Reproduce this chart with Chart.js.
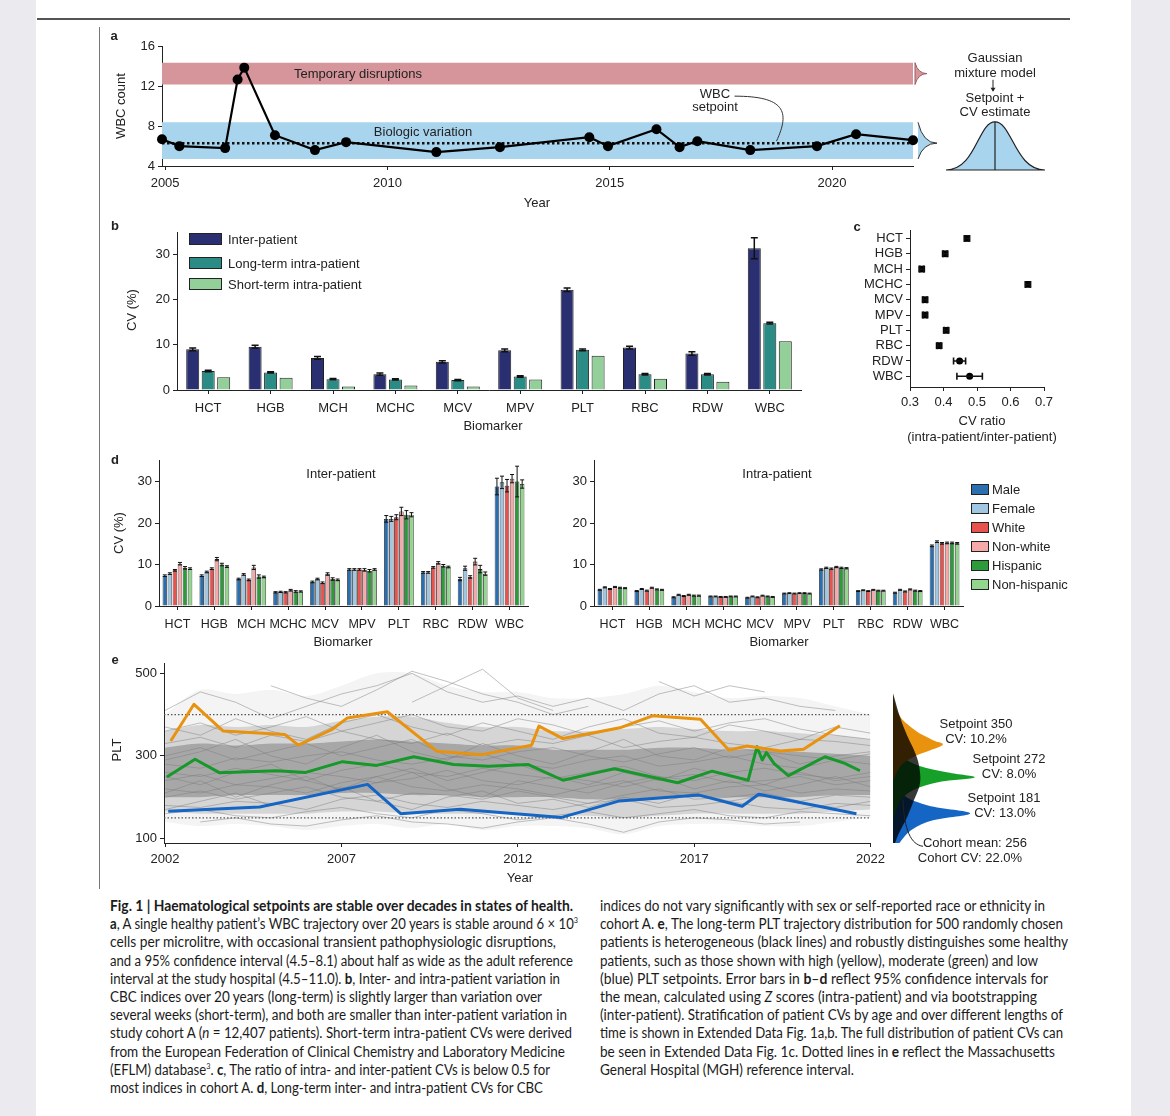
<!DOCTYPE html>
<html>
<head>
<meta charset="utf-8">
<script src="https://cdn.jsdelivr.net/npm/chart.js@4.4.1/dist/chart.umd.min.js"></script>
<style>
body{margin:0;width:1170px;height:1116px;background:#ebebef;position:relative;overflow:hidden;font-family:'Liberation Sans',Arial,sans-serif;color:#222}
#page{position:absolute;left:36px;top:0;width:1095px;height:1116px;background:#fff}
canvas{position:absolute}
.t{position:absolute;font-size:13px;white-space:nowrap;transform:translate(-50%,-50%);line-height:1}
.rot{transform:translate(-50%,-50%) rotate(-90deg)}
.pl{position:absolute;font-weight:bold;font-size:13px;transform:translate(-50%,-50%);line-height:1}
.lt{position:absolute;font-size:13px;white-space:nowrap;transform:translateY(-50%);line-height:1}
.box{position:absolute;border:1px solid #222;box-sizing:border-box}
.cap{position:absolute;font-family:Lato,'Open Sans',sans-serif;font-size:14.5px;line-height:18.2px;color:#1b1b1b}
.cap div{white-space:nowrap;transform-origin:0 50%;width:max-content;height:18.2px}
.cap sup{font-size:8px;line-height:0;vertical-align:baseline;position:relative;top:-6px}
</style>
</head>
<body>
<div id="page"></div>
<div style="position:absolute;left:37px;top:18px;width:1033px;height:1.5px;background:#555"></div>
<div style="position:absolute;left:99px;top:27px;width:1px;height:862px;background:#777"></div>

<canvas id="cA" width="960" height="180" style="left:100px;top:36px"></canvas>
<canvas id="cB" width="720" height="220" style="left:100px;top:215px"></canvas>
<canvas id="cC" width="200" height="200" style="left:860px;top:220px"></canvas>
<canvas id="cDL" width="440" height="200" style="left:100px;top:450px"></canvas>
<canvas id="cDR" width="440" height="200" style="left:540px;top:450px"></canvas>
<canvas id="cE" width="790" height="240" style="left:100px;top:650px"></canvas>
<canvas id="cED" width="120" height="240" style="left:880px;top:650px"></canvas>

<!-- panel labels -->
<div class="pl" style="left:114px;top:35px">a</div>
<div class="pl" style="left:115px;top:225px">b</div>
<div class="pl" style="left:857px;top:226px">c</div>
<div class="pl" style="left:115px;top:459px">d</div>
<div class="pl" style="left:115px;top:659px">e</div>

<!-- panel a text -->
<div class="t rot" style="left:120px;top:106px">WBC count</div>
<div class="t" style="left:537px;top:202px">Year</div>
<div class="t" style="left:358px;top:73px">Temporary disruptions</div>
<div class="t" style="left:423px;top:131px">Biologic variation</div>
<div class="t" style="left:715px;top:93px">WBC</div>
<div class="t" style="left:715px;top:106px">setpoint</div>
<div class="t" style="left:995px;top:57px">Gaussian</div>
<div class="t" style="left:995px;top:72px">mixture model</div>
<div class="t" style="left:995px;top:97px">Setpoint +</div>
<div class="t" style="left:995px;top:111px">CV estimate</div>

<!-- panel b text -->
<div class="t rot" style="left:131px;top:310px">CV (%)</div>
<div class="t" style="left:493px;top:425px">Biomarker</div>
<div class="box" style="left:189px;top:233px;width:33px;height:12px;background:#2a2f72"></div>
<div class="lt" style="left:228px;top:239px">Inter-patient</div>
<div class="box" style="left:189px;top:257px;width:33px;height:12px;background:#2b8c86"></div>
<div class="lt" style="left:228px;top:263px">Long-term intra-patient</div>
<div class="box" style="left:189px;top:278px;width:33px;height:12px;background:#93cf98"></div>
<div class="lt" style="left:228px;top:284px">Short-term intra-patient</div>

<!-- panel c text -->
<div class="t" style="left:982px;top:420px">CV ratio</div>
<div class="t" style="left:982px;top:436px">(intra-patient/inter-patient)</div>

<!-- panel d text -->
<div class="t rot" style="left:118px;top:533px">CV (%)</div>
<div class="t" style="left:343px;top:641px">Biomarker</div>
<div class="t" style="left:779px;top:641px">Biomarker</div>
<div class="t" style="left:341px;top:473px">Inter-patient</div>
<div class="t" style="left:777px;top:473px">Intra-patient</div>
<div id="legD"></div>

<!-- panel e text -->
<div class="t rot" style="left:116px;top:750px">PLT</div>
<div class="t" style="left:520px;top:877px">Year</div>
<div class="t" style="left:976px;top:723px">Setpoint 350</div>
<div class="t" style="left:976px;top:738px">CV: 10.2%</div>
<div class="t" style="left:1009px;top:758px">Setpoint 272</div>
<div class="t" style="left:1009px;top:773px">CV: 8.0%</div>
<div class="t" style="left:1004px;top:797px">Setpoint 181</div>
<div class="t" style="left:1005px;top:812px">CV: 13.0%</div>
<div class="t" style="left:975px;top:842px">Cohort mean: 256</div>
<div class="t" style="left:970px;top:857px">Cohort CV: 22.0%</div>

<!-- caption -->
<div class="cap" style="left:110px;top:897px">
<div data-w="463"><b>Fig. 1 | Haematological setpoints are stable over decades in states of health.</b></div>
<div data-w="468"><b>a</b>, A single healthy patient’s WBC trajectory over 20 years is stable around 6 × 10<sup>3</sup></div>
<div data-w="446">cells per microlitre, with occasional transient pathophysiologic disruptions,</div>
<div data-w="463">and a 95% confidence interval (4.5–8.1) about half as wide as the adult reference</div>
<div data-w="450">interval at the study hospital (4.5–11.0). <b>b</b>, Inter- and intra-patient variation in</div>
<div data-w="432">CBC indices over 20 years (long-term) is slightly larger than variation over</div>
<div data-w="457">several weeks (short-term), and both are smaller than inter-patient variation in</div>
<div data-w="462">study cohort A (<i>n</i> = 12,407 patients). Short-term intra-patient CVs were derived</div>
<div data-w="455">from the European Federation of Clinical Chemistry and Laboratory Medicine</div>
<div data-w="440">(EFLM) database<sup>3</sup>. <b>c</b>, The ratio of intra- and inter-patient CVs is below 0.5 for</div>
<div data-w="433">most indices in cohort A. <b>d</b>, Long-term inter- and intra-patient CVs for CBC</div>
</div>
<div class="cap" style="left:600px;top:897px">
<div data-w="445">indices do not vary significantly with sex or self-reported race or ethnicity in</div>
<div data-w="463">cohort A. <b>e</b>, The long-term PLT trajectory distribution for 500 randomly chosen</div>
<div data-w="468">patients is heterogeneous (black lines) and robustly distinguishes some healthy</div>
<div data-w="438">patients, such as those shown with high (yellow), moderate (green) and low</div>
<div data-w="448">(blue) PLT setpoints. Error bars in <b>b</b>–<b>d</b> reflect 95% confidence intervals for</div>
<div data-w="437">the mean, calculated using <i>Z</i> scores (intra-patient) and via bootstrapping</div>
<div data-w="463">(inter-patient). Stratification of patient CVs by age and over different lengths of</div>
<div data-w="463">time is shown in Extended Data Fig. 1a,b. The full distribution of patient CVs can</div>
<div data-w="455">be seen in Extended Data Fig. 1c. Dotted lines in <b>e</b> reflect the Massachusetts</div>
<div data-w="254">General Hospital (MGH) reference interval.</div>
</div>

<script>
// ---------- data ----------
// a: single patient WBC trajectory
const wbcYears = [2004.93, 2005.32, 2006.35, 2006.63, 2006.78, 2007.47, 2008.37, 2009.07, 2011.1, 2012.53, 2014.54, 2014.96, 2016.05, 2016.57, 2016.97, 2018.16, 2019.66, 2020.54, 2021.82];
const wbcCounts = [6.7, 6.0, 5.8, 12.7, 13.9, 7.1, 5.6, 6.4, 5.4, 5.9, 6.9, 6.0, 7.7, 5.9, 6.5, 5.6, 6.0, 7.2, 6.6];
const wbcSetpoint = 6.3;
const disruptionBand = [12.2, 14.4];
const biologicBand = [4.7, 8.4];
const aYearTicks = [2005, 2010, 2015, 2020];

// b: CVs per biomarker
const biomarkers = ['HCT', 'HGB', 'MCH', 'MCHC', 'MCV', 'MPV', 'PLT', 'RBC', 'RDW', 'WBC'];
const interCV = [9.0, 9.6, 7.1, 3.5, 6.25, 8.8, 22.2, 9.4, 8.1, 31.4];
const interErr = [0.3, 0.3, 0.3, 0.25, 0.25, 0.3, 0.4, 0.3, 0.4, 2.35];
const longCV = [4.2, 3.9, 2.4, 2.35, 2.2, 3.0, 8.9, 3.5, 3.5, 14.8];
const longErr = [0.15, 0.15, 0.15, 0.15, 0.15, 0.15, 0.2, 0.15, 0.15, 0.2];
const shortCV = [2.8, 2.7, 0.8, 1.0, 0.8, 2.35, 7.6, 2.5, 1.8, 10.8];

// c: CV ratio intra/inter
const cvRatio = [0.470, 0.405, 0.335, 0.652, 0.345, 0.345, 0.408, 0.387, 0.448, 0.478];
const cvRatioErr = [0.007, 0.006, 0.006, 0.007, 0.006, 0.006, 0.006, 0.005, 0.018, 0.038];

// d: stratified CVs
const groups = ['Male', 'Female', 'White', 'Non-white', 'Hispanic', 'Non-hispanic'];
const interMale = [7.3, 7.3, 6.5, 3.3, 5.8, 8.8, 21.0, 8.1, 6.5, 28.8];
const interFemale = [7.8, 8.2, 7.6, 3.4, 6.5, 8.8, 21.0, 8.1, 9.1, 29.8];
const interWhite = [8.6, 9.0, 6.3, 3.3, 5.6, 8.8, 21.4, 9.3, 7.0, 29.0];
const interNonWhite = [10.2, 11.3, 9.3, 3.8, 7.7, 8.7, 22.8, 10.4, 10.7, 30.7];
const interHispanic = [9.2, 10.0, 7.1, 3.5, 6.5, 8.5, 22.0, 9.7, 8.9, 30.0];
const interNonHispanic = [9.0, 9.5, 7.0, 3.5, 6.3, 8.8, 22.0, 9.4, 7.8, 29.4];
const interErrMale = [0.2, 0.2, 0.2, 0.15, 0.2, 0.2, 0.8, 0.2, 0.4, 2.0];
const interErrFemale = [0.2, 0.2, 0.2, 0.15, 0.2, 0.2, 0.6, 0.2, 0.5, 1.5];
const interErrWhite = [0.2, 0.2, 0.2, 0.15, 0.2, 0.2, 0.6, 0.2, 0.3, 1.5];
const interErrNonWhite = [0.3, 0.4, 0.5, 0.2, 0.3, 0.3, 1.0, 0.3, 0.8, 1.0];
const interErrHispanic = [0.3, 0.3, 0.4, 0.2, 0.3, 0.3, 1.0, 0.3, 0.9, 3.7];
const interErrNonHispanic = [0.2, 0.2, 0.2, 0.15, 0.2, 0.2, 0.5, 0.2, 0.4, 1.0];
const intraMale = [3.9, 3.6, 2.1, 2.3, 2.0, 3.0, 8.8, 3.6, 3.2, 14.5];
const intraFemale = [4.5, 4.1, 2.7, 2.3, 2.3, 3.1, 9.2, 3.8, 3.9, 15.5];
const intraWhite = [4.1, 3.7, 2.4, 2.2, 2.1, 3.0, 9.0, 3.6, 3.5, 15.1];
const intraNonWhite = [4.6, 4.4, 2.7, 2.2, 2.5, 3.1, 9.4, 3.9, 4.0, 15.2];
const intraHispanic = [4.4, 4.0, 2.5, 2.3, 2.3, 3.1, 9.2, 3.7, 3.7, 15.2];
const intraNonHispanic = [4.3, 3.9, 2.5, 2.3, 2.2, 3.0, 9.1, 3.7, 3.6, 15.1];
const intraErr = [0.12, 0.12, 0.12, 0.1, 0.1, 0.1, 0.15, 0.1, 0.12, 0.2];

// e: PLT trajectories
const orangeYears = [2002.16, 2002.82, 2003.65, 2005.39, 2005.78, 2006.75, 2007.17, 2008.3, 2009.71, 2010.98, 2012.39, 2012.6, 2013.28, 2014.27, 2014.93, 2015.82, 2017.18, 2017.98, 2018.5, 2019.44, 2020.1, 2021.13];
const orangePLT = [336, 425, 360, 352, 326, 365, 392, 407, 311, 303, 326, 372, 342, 358, 369, 397, 389, 314, 324, 312, 316, 373];
const greenYears = [2002.05, 2002.85, 2003.55, 2005.15, 2005.99, 2007.03, 2008.0, 2009.05, 2010.18, 2011.17, 2012.3, 2013.28, 2014.27, 2014.74, 2016.53, 2017.51, 2018.53, 2018.78, 2018.93, 2019.05, 2019.26, 2019.67, 2020.71, 2021.27, 2021.7];
const greenPLT = [249, 292, 259, 264, 260, 286, 277, 298, 279, 275, 279, 241, 260, 269, 235, 263, 241, 322, 290, 308, 282, 252, 298, 282, 264];
const blueYears = [2002.09, 2004.68, 2007.74, 2008.68, 2010.37, 2013.24, 2014.27, 2014.88, 2017.14, 2018.36, 2018.83, 2021.6];
const bluePLT = [166, 176, 231, 160, 171, 151, 176, 191, 205, 178, 207, 160];
const referenceInterval = [150, 400];
const eYears = [2002, 2003, 2004, 2005, 2006, 2007, 2008, 2009, 2010, 2011, 2012, 2013, 2014, 2015, 2016, 2017, 2018, 2019, 2020, 2021, 2022];
const eYearTicks = [2002, 2007, 2012, 2017, 2022];
// density of the 500-patient cloud (outer, middle and core envelopes)
const outerHi = [400, 460, 450, 460, 445, 470, 500, 500, 470, 455, 455, 440, 440, 450, 470, 455, 440, 445, 440, 420, 400];
const outerLo = [140, 130, 135, 130, 120, 130, 135, 125, 135, 120, 130, 130, 125, 110, 130, 135, 135, 130, 130, 140, 150];
const midHi = [360, 375, 370, 375, 370, 385, 395, 395, 380, 370, 370, 360, 360, 365, 370, 365, 360, 360, 355, 350, 340];
const midLo = [165, 160, 160, 160, 160, 165, 165, 160, 160, 160, 160, 155, 155, 150, 155, 160, 160, 160, 160, 165, 170];
const coreHi = [320, 330, 325, 330, 330, 335, 340, 335, 330, 325, 325, 315, 315, 315, 320, 320, 315, 315, 310, 305, 300];
const coreLo = [200, 200, 205, 205, 205, 210, 210, 205, 205, 200, 200, 200, 195, 195, 200, 200, 200, 200, 200, 205, 205];
// a sample of individual grey trajectories
const greyTrajectories = [
  [410, 455, 430, 390, 420, 450, 470, 500, 455, 430, 445, 420, 440, 410, 450, 470, 430, 440, 420, 410, null],
  [null, null, null, 470, 440, 420, 460, 505, 480, 450, 430, 400, 420, null, null, null, null, null, null, null, null],
  [360, 380, 350, 370, 395, 360, 380, 400, 370, 360, 390, 375, 350, 370, 385, 360, 380, 390, 365, 350, 340],
  [330, 345, 320, 350, 335, 360, 340, 330, 355, 325, 340, 330, 350, 320, 335, 345, 330, 320, 340, 335, 325],
  [300, 320, 290, 310, 330, 300, 320, 340, 300, 290, 310, 320, 300, 285, 305, 320, 295, 310, 300, 290, 305],
  [280, 270, 295, 285, 300, 310, 290, 280, 295, 305, 280, 270, 290, 300, 275, 285, 300, 280, 270, 290, 280],
  [260, 250, 270, 255, 240, 265, 280, 260, 250, 270, 255, 245, 260, 275, 250, 240, 260, 270, 255, 245, 260],
  [240, 255, 230, 245, 260, 250, 235, 245, 265, 240, 230, 250, 240, 225, 245, 255, 235, 240, 250, 230, 240],
  [220, 210, 230, 225, 210, 235, 250, 225, 215, 230, 220, 205, 225, 240, 215, 210, 225, 230, 210, 220, 215],
  [200, 215, 195, 210, 225, 200, 190, 210, 205, 195, 215, 200, 185, 205, 220, 195, 200, 210, 190, 205, 200],
  [180, 175, 190, 185, 170, 195, 205, 185, 175, 190, 180, 170, 185, 195, 175, 180, 190, 175, 170, 185, 180],
  [160, 170, 155, 150, 165, 175, 160, 150, 170, 160, 145, 155, 165, 150, 160, 170, 155, 150, 165, 160, 155],
  [null, 140, 150, 135, 130, 145, 155, 140, 135, 125, 140, 150, 135, 115, 140, 150, 145, 135, 140, null, null],
  [null, null, null, null, null, null, null, 430, 470, 510, 440, 410, null, null, null, null, null, null, null, null, null],
  [290, 310, 340, 300, 280, 320, 350, 310, 290, 330, 300, 280, 310, 340, 300, 290, 320, 310, 280, 300, 310],
  [250, 230, 260, 280, 240, 220, 250, 270, 240, 260, 280, 250, 230, 260, 240, 270, 250, 230, 260, 240, 250],
  [null, null, null, null, null, null, null, null, null, null, null, null, null, null, 480, 445, 470, 455, null, null, null],
  [210, 240, 200, 230, 250, 215, 235, 260, 220, 200, 240, 225, 210, 235, 250, 220, 240, 215, 230, 250, 225],
  [370, 350, 390, 360, 340, 380, 400, 370, 350, 380, 360, 340, 370, 390, 355, 345, 375, 360, 340, 370, 355],
  [170, 190, 210, 180, 200, 225, 190, 170, 200, 215, 185, 195, 175, 200, 185, 210, 190, 205, 185, 175, 190]
];
// setpoint densities at the right of e (PLT level, drawn width)
const cohortDensityPLT = [76, 113, 151, 193, 234, 277, 314, 350, 394, 452];
const cohortDensityW = [0, 6, 14, 21, 27, 26, 21, 14, 7, 0];
const orangeDensityPLT = [241, 277, 297, 314, 328, 338, 362, 399, 447];
const orangeDensityW = [0, 8, 20, 38, 50, 40, 22, 6, 0];
const greenDensityPLT = [144, 193, 217, 236, 248, 260, 277, 302, 350];
const greenDensityW = [0, 8, 20, 45, 82, 55, 25, 8, 0];
const blueDensityPLT = [60, 84, 120, 144, 161, 180, 205, 241];
const blueDensityW = [0, 5, 18, 40, 77, 35, 10, 0];

// ---------- helpers ----------
const FONT = "'Liberation Sans', Arial, sans-serif";
const INK = '#222';

function axis(size, extra) {
  const a = {
    grid: { display: true, drawOnChartArea: false, drawTicks: true, tickLength: 4, color: INK, lineWidth: 1 },
    border: { display: true, color: INK, width: 1 },
    ticks: { color: INK, font: { family: FONT, size: size }, padding: 3, maxRotation: 0, autoSkip: false }
  };
  return Object.assign(a, extra);
}
function fixTicks(list) {
  return s => { s.ticks = list.map(v => ({ value: v })); };
}
function baseOpts(pad) {
  return {
    responsive: false, animation: false,
    layout: { padding: pad },
    plugins: { legend: { display: false }, tooltip: { enabled: false } }
  };
}

const errorBars = {
  id: 'errorBars',
  afterDatasetsDraw(chart, args, opts) {
    const ctx = chart.ctx;
    const cap = opts.cap || 3;
    chart.data.datasets.forEach((ds, i) => {
      if (!ds.errors) return;
      const meta = chart.getDatasetMeta(i);
      ctx.save();
      ctx.strokeStyle = '#111';
      ctx.lineWidth = opts.lineWidth || 1.2;
      meta.data.forEach((el, j) => {
        const e = ds.errors[j];
        if (!e) return;
        ctx.beginPath();
        if (ds.errorsHorizontal) {
          const v = ds.data[j].x, s = chart.scales.x;
          const a = s.getPixelForValue(v - e), b = s.getPixelForValue(v + e);
          ctx.moveTo(a, el.y); ctx.lineTo(b, el.y);
          ctx.moveTo(a, el.y - cap); ctx.lineTo(a, el.y + cap);
          ctx.moveTo(b, el.y - cap); ctx.lineTo(b, el.y + cap);
        } else {
          const v = ds.data[j], s = chart.scales.y;
          const a = s.getPixelForValue(v - e), b = s.getPixelForValue(v + e);
          ctx.moveTo(el.x, a); ctx.lineTo(el.x, b);
          ctx.moveTo(el.x - cap, a); ctx.lineTo(el.x + cap, a);
          ctx.moveTo(el.x - cap, b); ctx.lineTo(el.x + cap, b);
        }
        ctx.stroke();
      });
      ctx.restore();
    });
  }
};

// ---------- a ----------
const A_MIN = 2004.93, A_MAX = 2021.82;
const aDecor = {
  id: 'aDecor',
  afterDraw(chart) {
    const { ctx, chartArea: ca, scales: { x, y } } = chart;
    ctx.save();
    // small density bumps at the end of the bands
    const r1 = y.getPixelForValue(disruptionBand[1]), r0 = y.getPixelForValue(disruptionBand[0]);
    const rm = (r1 + r0) / 2;
    ctx.fillStyle = '#d5959a'; ctx.strokeStyle = '#9c5b60'; ctx.lineWidth = 1;
    ctx.beginPath();
    ctx.moveTo(ca.right + 2, r1);
    ctx.quadraticCurveTo(ca.right + 5, rm, ca.right + 14, rm);
    ctx.quadraticCurveTo(ca.right + 5, rm, ca.right + 2, r0);
    ctx.closePath(); ctx.fill(); ctx.stroke();
    const b1 = y.getPixelForValue(biologicBand[1]), b0 = y.getPixelForValue(biologicBand[0]);
    const bm = y.getPixelForValue(wbcSetpoint);
    ctx.fillStyle = '#a9d4ee'; ctx.strokeStyle = '#333';
    ctx.beginPath();
    ctx.moveTo(ca.right + 5, b1);
    ctx.quadraticCurveTo(ca.right + 10, bm, ca.right + 24, bm);
    ctx.quadraticCurveTo(ca.right + 10, bm, ca.right + 5, b0);
    ctx.fill(); ctx.stroke();
    // leader to setpoint line
    const ex = x.getPixelForValue(2018.75), ey = y.getPixelForValue(wbcSetpoint) - 2;
    ctx.strokeStyle = '#333'; ctx.lineWidth = 1;
    ctx.beginPath();
    ctx.moveTo(ex - 42, ey - 45);
    ctx.bezierCurveTo(ex + 8, ey - 45, ex + 14, ey - 30, ex, ey);
    ctx.stroke();
    // gaussian schematic
    const L = ca.right + 33, R = ca.right + 132, C = ca.right + 82;
    const B = ca.bottom + 4, P = ca.top + 75;
    ctx.fillStyle = '#a9d4ee'; ctx.strokeStyle = '#222'; ctx.lineWidth = 1.2;
    ctx.beginPath();
    ctx.moveTo(L, B);
    ctx.bezierCurveTo(L + 30, B, C - 17, P, C, P);
    ctx.bezierCurveTo(C + 17, P, R - 30, B, R, B);
    ctx.closePath(); ctx.fill(); ctx.stroke();
    ctx.beginPath(); ctx.moveTo(C, B); ctx.lineTo(C, P); ctx.stroke();
    // arrow
    ctx.lineWidth = 1;
    ctx.beginPath(); ctx.moveTo(C - 2, ca.top + 33); ctx.lineTo(C - 2, ca.top + 44); ctx.stroke();
    ctx.fillStyle = '#222';
    ctx.beginPath(); ctx.moveTo(C - 4.5, ca.top + 41); ctx.lineTo(C + 0.5, ca.top + 41); ctx.lineTo(C - 2, ca.top + 45); ctx.fill();
    ctx.restore();
  }
};

const optA = baseOpts({ top: 10, right: 147, left: 0, bottom: 0 });
optA.scales = {
  x: axis(13, { type: 'linear', min: A_MIN, max: A_MAX, afterBuildTicks: fixTicks(aYearTicks), afterFit: s => { s.height = 50; } }),
  y: axis(13, { type: 'linear', min: 4, max: 16, afterBuildTicks: fixTicks([4, 8, 12, 16]), afterFit: s => { s.width = 62; } })
};
optA.scales.x.ticks.padding = 6;
optA.scales.x.ticks.callback = v => String(v);

new Chart(document.getElementById('cA'), {
  type: 'line',
  data: {
    datasets: [
      { data: wbcYears.map((x, i) => ({ x, y: wbcCounts[i] })), borderColor: '#000', borderWidth: 2.2, pointRadius: 5, pointBackgroundColor: '#000', pointBorderWidth: 0, order: 0, clip: false },
      { data: [{ x: A_MIN, y: wbcSetpoint }, { x: A_MAX, y: wbcSetpoint }], borderColor: '#111', borderWidth: 2.5, borderDash: [2.5, 2.5], pointRadius: 0, order: 1 },
      { data: [{ x: A_MIN, y: disruptionBand[1] }, { x: A_MAX, y: disruptionBand[1] }], borderWidth: 0, pointRadius: 0, fill: { value: disruptionBand[0] }, backgroundColor: '#d5959a', order: 2 },
      { data: [{ x: A_MIN, y: biologicBand[1] }, { x: A_MAX, y: biologicBand[1] }], borderWidth: 0, pointRadius: 0, fill: { value: biologicBand[0] }, backgroundColor: '#a9d4ee', order: 3 }
    ]
  },
  options: optA,
  plugins: [aDecor]
});

// ---------- b ----------
const optB = baseOpts({ top: 17, right: 19, left: 0, bottom: 0 });
optB.scales = {
  x: axis(13, { afterFit: s => { s.height = 45; } }),
  y: axis(13, { min: 0, max: 35, afterBuildTicks: fixTicks([0, 10, 20, 30]), afterFit: s => { s.width = 77; } })
};
optB.scales.x.grid.offset = false;
optB.scales.x.ticks.padding = 7;
optB.plugins.errorBars = { cap: 3.5, lineWidth: 1.5 };
const barB = { borderColor: '#222', borderWidth: 1, categoryPercentage: 0.745, barPercentage: 0.84 };
new Chart(document.getElementById('cB'), {
  type: 'bar',
  data: {
    labels: biomarkers,
    datasets: [
      Object.assign({ label: 'Inter-patient', data: interCV, errors: interErr, backgroundColor: '#2a2f72' }, barB),
      Object.assign({ label: 'Long-term intra-patient', data: longCV, errors: longErr, backgroundColor: '#2b8c86' }, barB),
      Object.assign({ label: 'Short-term intra-patient', data: shortCV, backgroundColor: '#93cf98' }, barB)
    ]
  },
  options: optB,
  plugins: [errorBars]
});

// ---------- c ----------
const optC = baseOpts({ top: 8, right: 16, left: 0, bottom: 0 });
optC.scales = {
  x: axis(13, { type: 'linear', min: 0.3, max: 0.7, afterBuildTicks: fixTicks([0.3, 0.4, 0.5, 0.6, 0.7]), afterFit: s => { s.height = 33; } }),
  y: axis(13, { type: 'linear', reverse: true, min: -0.5, max: 9.7, afterBuildTicks: fixTicks([0, 1, 2, 3, 4, 5, 6, 7, 8, 9]), afterFit: s => { s.width = 50; } })
};
optC.scales.x.ticks.callback = v => v.toFixed(1);
optC.scales.x.ticks.padding = 4;
optC.scales.y.ticks.callback = v => biomarkers[v];
optC.plugins.errorBars = { cap: 3.5, lineWidth: 1.6 };
new Chart(document.getElementById('cC'), {
  type: 'scatter',
  data: {
    datasets: [{
      data: cvRatio.map((v, i) => ({ x: v, y: i })), errors: cvRatioErr, errorsHorizontal: true,
      pointStyle: cvRatioErr.map(e => (e > 0.01 ? 'circle' : 'rect')),
      pointRadius: cvRatioErr.map(e => (e > 0.01 ? 3.5 : 4.8)),
      pointBorderWidth: 0, backgroundColor: '#000', clip: false
    }]
  },
  options: optC,
  plugins: [errorBars]
});

// ---------- d ----------
const groupColors = ['#2a6fb0', '#a0c6e2', '#e8524f', '#f5aaa9', '#2e9b3b', '#93d68d'];
function dChart(id, series, errs, yWidth, rightPad) {
  const o = baseOpts({ top: 10, right: rightPad, left: 0, bottom: 0 });
  o.scales = {
    x: axis(12.5, { afterFit: s => { s.height = 44; } }),
    y: axis(13, { min: 0, max: 35, afterBuildTicks: fixTicks([0, 10, 20, 30]), afterFit: s => { s.width = yWidth; } })
  };
  o.scales.x.grid.offset = false;
  o.scales.x.ticks.padding = 7;
  o.plugins.errorBars = { cap: 2, lineWidth: 1 };
  new Chart(document.getElementById(id), {
    type: 'bar',
    data: {
      labels: biomarkers,
      datasets: series.map((d, i) => ({
        label: groups[i], data: d, errors: errs[i], backgroundColor: groupColors[i],
        borderColor: '#222', borderWidth: 0.8, categoryPercentage: 0.82, barPercentage: 0.9
      }))
    },
    options: o,
    plugins: [errorBars]
  });
}
dChart('cDL', [interMale, interFemale, interWhite, interNonWhite, interHispanic, interNonHispanic],
  [interErrMale, interErrFemale, interErrWhite, interErrNonWhite, interErrHispanic, interErrNonHispanic], 59, 12);
dChart('cDR', [intraMale, intraFemale, intraWhite, intraNonWhite, intraHispanic, intraNonHispanic],
  [intraErr, intraErr, intraErr, intraErr, intraErr, intraErr], 54, 17);

// legend for d
const legD = document.getElementById('legD');
groups.forEach((g, i) => {
  const cy = 489 + i * 19;
  legD.insertAdjacentHTML('beforeend',
    `<div class="box" style="left:971px;top:${cy - 5.5}px;width:18px;height:11px;background:${groupColors[i]}"></div>` +
    `<div class="lt" style="left:992px;top:${cy}px">${g}</div>`);
});

// ---------- e ----------
const E_MIN = 2001.97, E_MAX = 2022;
const optE = baseOpts({ top: 13, right: 16, left: 0, bottom: 0 });
optE.scales = {
  x: axis(13, { type: 'linear', min: E_MIN, max: E_MAX, afterBuildTicks: fixTicks(eYearTicks), afterFit: s => { s.height = 47; } }),
  y: axis(13, { type: 'linear', min: 89, max: 525, afterBuildTicks: fixTicks([100, 300, 500]), afterFit: s => { s.width = 64; } })
};
optE.scales.x.ticks.callback = v => String(v);
optE.scales.x.ticks.padding = 5;

const eSets = [];
const hl = (xs, ys, color) => ({ data: xs.map((x, i) => ({ x, y: ys[i] })), borderColor: color, borderWidth: 3, pointRadius: 0, borderJoinStyle: 'round' });
eSets.push(hl(orangeYears, orangePLT, '#e8920e'));
eSets.push(hl(greenYears, greenPLT, '#16982a'));
eSets.push(hl(blueYears, bluePLT, '#1565c4'));
referenceInterval.forEach(v => eSets.push({ data: [{ x: E_MIN, y: v }, { x: E_MAX, y: v }], borderColor: '#555', borderWidth: 1.2, borderDash: [1.5, 2], pointRadius: 0 }));
greyTrajectories.forEach(vals => eSets.push({
  data: eYears.map((x, i) => ({ x, y: vals[i] })), borderColor: 'rgba(125,125,125,0.6)', borderWidth: 0.8, pointRadius: 0
}));
[[coreHi, coreLo, 'rgba(0,0,0,0.22)'], [midHi, midLo, 'rgba(0,0,0,0.13)'], [outerHi, outerLo, 'rgba(0,0,0,0.045)']].forEach(([hi, lo, c]) => {
  eSets.push({ data: eYears.map((x, i) => ({ x, y: hi[i] })), borderWidth: 0, pointRadius: 0, tension: 0.3, fill: '+1', backgroundColor: c });
  eSets.push({ data: eYears.map((x, i) => ({ x, y: lo[i] })), borderWidth: 0, pointRadius: 0, tension: 0.3, fill: false });
});
eSets.forEach((d, i) => { d.order = i; });

new Chart(document.getElementById('cE'), {
  type: 'line',
  data: { datasets: eSets },
  options: optE
});

// densities beside e
const eLeader = {
  id: 'eLeader',
  afterDraw(chart) {
    const { ctx, scales: { x, y } } = chart;
    ctx.save();
    ctx.strokeStyle = '#222'; ctx.lineWidth = 1;
    ctx.beginPath();
    ctx.moveTo(x.getPixelForValue(10), y.getPixelForValue(195));
    ctx.bezierCurveTo(x.getPixelForValue(11), y.getPixelForValue(120), x.getPixelForValue(18), y.getPixelForValue(85), x.getPixelForValue(30), y.getPixelForValue(81));
    ctx.stroke();
    ctx.restore();
  }
};
const dens = (ys, ws, color, ord) => ({
  data: ys.map((v, i) => ({ x: ws[i], y: v })), fill: 'origin', backgroundColor: color,
  borderWidth: 0, pointRadius: 0, tension: 0.35, order: ord, clip: false
});
const optED = baseOpts({ top: 13, right: 0, left: 13, bottom: 47 });
optED.indexAxis = 'y';
optED.scales = {
  x: { type: 'linear', min: 0, max: 107, display: false },
  y: { type: 'linear', min: 89, max: 525, display: false }
};
new Chart(document.getElementById('cED'), {
  type: 'line',
  data: {
    datasets: [
      dens(cohortDensityPLT, cohortDensityW, 'rgba(0,0,0,0.78)', 0),
      dens(orangeDensityPLT, orangeDensityW, '#e8920e', 1),
      dens(greenDensityPLT, greenDensityW, '#16a02a', 2),
      dens(blueDensityPLT, blueDensityW, '#1565c4', 3)
    ]
  },
  options: optED,
  plugins: [eLeader]
});

// ---------- caption line fitting ----------
function fitCaption() {
  document.querySelectorAll('.cap div[data-w]').forEach(d => {
    d.style.transform = 'none';
    const w = d.getBoundingClientRect().width;
    d.style.transform = `scaleX(${(+d.dataset.w / w).toFixed(4)})`;
  });
}
fitCaption();
if (document.fonts) document.fonts.ready.then(fitCaption);
</script>
</body>
</html>
